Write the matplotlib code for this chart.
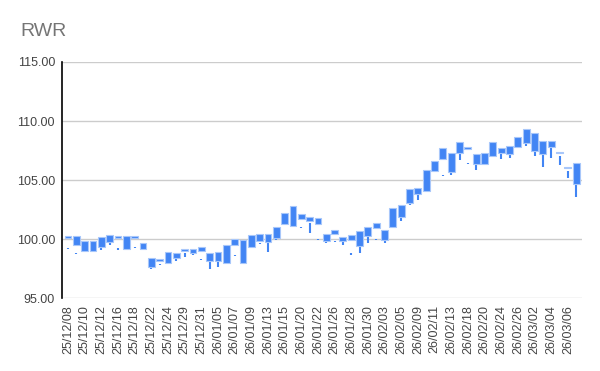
import matplotlib
matplotlib.use("Agg")
import matplotlib.pyplot as plt
from matplotlib.patches import Rectangle

dates = ["25/12/08", "25/12/09", "25/12/10", "25/12/11", "25/12/12", "25/12/15", "25/12/16",
         "25/12/17", "25/12/18", "25/12/19", "25/12/22", "25/12/23", "25/12/24", "25/12/26",
         "25/12/29", "25/12/30", "25/12/31", "26/01/02", "26/01/05", "26/01/06", "26/01/07",
         "26/01/08", "26/01/09", "26/01/12", "26/01/13", "26/01/14", "26/01/15", "26/01/16",
         "26/01/20", "26/01/21", "26/01/22", "26/01/23", "26/01/26", "26/01/27", "26/01/28",
         "26/01/29", "26/01/30", "26/02/02", "26/02/03", "26/02/04", "26/02/05", "26/02/06",
         "26/02/09", "26/02/10", "26/02/11", "26/02/12", "26/02/13", "26/02/17", "26/02/18",
         "26/02/19", "26/02/20", "26/02/23", "26/02/24", "26/02/25", "26/02/26", "26/02/27",
         "26/03/02", "26/03/03", "26/03/04", "26/03/05", "26/03/06", "26/03/09"]

body_hi = [100.30, 100.30, 99.86, 99.86, 100.19, 100.34, 100.25, 100.28, 100.28, 99.71,
           98.39, 98.31, 98.90, 98.84, 99.18, 99.18, 99.32, 98.87, 98.90, 99.52,
           100.03, 99.94, 100.35, 100.42, 100.42, 101.04, 102.18, 102.84, 102.10, 101.87,
           101.78, 100.42, 100.76, 100.19, 100.34, 100.70, 101.04, 101.38, 100.76, 102.65,
           102.90, 104.23, 104.31, 105.86, 106.64, 107.72, 107.27, 108.22, 107.78, 107.19,
           107.27, 108.22, 107.69, 107.89, 108.67, 109.32, 108.99, 108.33, 108.31, 107.40,
           106.14, 106.42]
body_lo = [100.11, 99.52, 99.04, 99.04, 99.32, 99.77, 100.08, 99.18, 100.11, 99.18,
           97.63, 98.14, 97.97, 98.42, 99.01, 98.87, 99.01, 98.19, 98.19, 97.97,
           99.54, 98.02, 99.37, 99.86, 99.77, 100.14, 101.29, 101.14, 101.74, 101.56,
           101.27, 99.86, 100.45, 99.86, 99.94, 99.43, 100.28, 100.98, 99.97, 101.00,
           101.89, 103.09, 103.80, 104.11, 105.77, 106.77, 105.71, 107.27, 107.61, 106.34,
           106.37, 107.04, 107.27, 107.21, 107.80, 108.11, 107.46, 107.19, 107.83, 107.30,
           106.03, 104.67]
tail_hi = [99.28, 98.86, 99.04, 99.04, 99.32, 99.77, 99.24, 99.18, 99.36, 99.18,
           97.63, 97.87, 97.97, 98.42, 98.87, 98.87, 98.29, 98.19, 98.19, 97.97,
           98.63, 98.02, 99.37, 99.68, 99.77, 100.14, 101.29, 101.14, 101.07, 101.38,
           100.02, 99.86, 99.87, 99.86, 98.82, 99.43, 100.28, 100.04, 99.97, 101.00,
           101.89, 103.09, 103.80, 104.11, 105.77, 105.41, 105.71, 107.27, 106.46, 106.34,
           106.37, 107.04, 107.27, 107.21, 107.80, 108.11, 107.46, 107.19, 107.83, 107.04,
           105.80, 104.67]
tail_lo = [99.20, 98.78, 99.04, 98.93, 99.10, 99.52, 99.07, 99.18, 99.28, 99.18,
           97.49, 97.79, 97.97, 98.19, 98.53, 98.70, 98.21, 97.49, 97.63, 97.97,
           98.55, 98.02, 99.37, 99.60, 98.93, 99.92, 101.21, 101.14, 100.93, 100.57,
           99.94, 99.66, 99.79, 99.49, 98.65, 98.87, 99.71, 99.96, 99.66, 101.00,
           101.57, 102.90, 103.32, 104.11, 105.69, 105.33, 105.44, 106.70, 106.38, 105.86,
           106.31, 106.96, 106.79, 106.90, 107.80, 107.89, 107.04, 106.09, 106.90, 106.28,
           105.16, 103.55]

y_ticks = [95, 100, 105, 110, 115]

plt.rcParams['font.family'] = ['Liberation Sans', 'DejaVu Sans']

fig = plt.figure(figsize=(6.0, 3.71), dpi=100)
ax = fig.add_axes([62 / 600, 1 - 298.4 / 371, (582 - 62) / 600, (298.4 - 61.9) / 371])

blue = "#4285F4"
edge = "#a8c7fa"
w = 0.82
for i in range(len(dates)):
    if tail_hi[i] > tail_lo[i]:
        ax.vlines(i, tail_lo[i], tail_hi[i], color=blue, lw=1.5, zorder=2)
    ax.add_patch(Rectangle((i - w / 2, body_lo[i]), w, body_hi[i] - body_lo[i],
                           facecolor=blue, edgecolor=edge, lw=0.8, zorder=3))

ax.set_xlim(-0.72, 61.7)
ax.set_ylim(95, 115)
ax.set_yticks(y_ticks)
ax.set_yticklabels([f"{v:.2f}" for v in y_ticks], fontsize=9, color="#444444")
ax.set_xticks(range(0, len(dates), 2))
ax.set_xticklabels(dates[::2], rotation=90, fontsize=9, color="#444444")
ax.tick_params(axis='both', length=0)
ax.tick_params(axis='y', pad=5)
ax.tick_params(axis='x', pad=5)
ax.grid(axis='y', color="#cccccc", lw=1, zorder=0)
ax.set_axisbelow(True)
for s in ["top", "right", "bottom"]:
    ax.spines[s].set_visible(False)
ax.spines["left"].set_color("#000000")
ax.spines["left"].set_linewidth(1.2)
ax.spines["left"].set_zorder(5)

fig.text(20 / 600, 1 - 32 / 371, "RWR", fontsize=14, color="#757575",
         family=["Liberation Sans", "DejaVu Sans"], va="center", ha="left")

fig.savefig("out.png", dpi=100)
